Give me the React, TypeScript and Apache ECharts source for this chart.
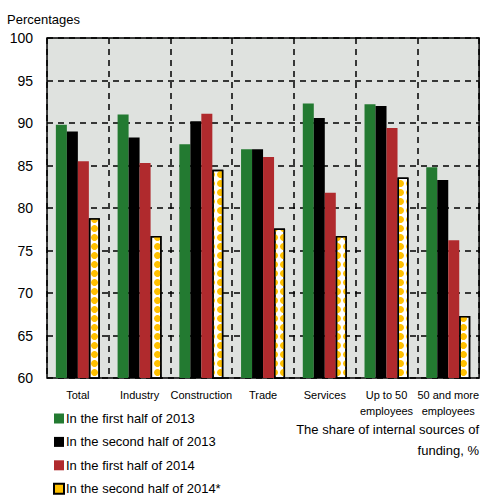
import React, { useEffect, useRef } from "react";
import * as echarts from "echarts";

const categories = [
  "Total",
  "Industry",
  "Construction",
  "Trade",
  "Services",
  "Up to 50\nemployees",
  "50 and more\nemployees",
];

const seriesNames = [
  "In the first half of 2013",
  "In the second half of 2013",
  "In the first half of 2014",
  "In the second half of 2014*",
];

const firstHalf2013 = [89.8, 91.0, 87.5, 86.9, 92.3, 92.2, 84.8];
const secondHalf2013 = [89.0, 88.3, 90.2, 86.9, 90.6, 92.0, 83.3];
const firstHalf2014 = [85.5, 85.3, 91.1, 86.0, 81.8, 89.4, 76.2];
const secondHalf2014 = [78.8, 76.7, 84.5, 77.6, 76.7, 83.6, 67.3];

const yTicks = [60, 65, 70, 75, 80, 85, 90, 95, 100];

const noteLines = ["The share of internal sources of", "funding, %"];

const FONT = "'Liberation Sans', Arial, sans-serif";

const GREEN = "#237a31";
const BLACK = "#000000";
const RED = "#b02a2d";
const YELLOW = "#ffc000";

export default function App() {
  const ref = useRef<HTMLDivElement>(null);

  useEffect(() => {
    document.body.style.margin = "0";
    if (!ref.current) return;
    const chart = echarts.init(ref.current, undefined, { renderer: "svg" });

    const plainBar = (name: string, data: number[], color: string) => ({
      name,
      type: "bar",
      data,
      barWidth: 11,
      barGap: "0%",
      itemStyle: { color },
    });

    chart.setOption({
      animation: false,
      backgroundColor: "#ffffff",
      textStyle: { fontFamily: FONT },
      title: {
        text: "Percentages",
        left: 7,
        top: 13,
        padding: 0,
        textStyle: { fontFamily: FONT, fontSize: 13, fontWeight: "normal", color: "#000" },
      },
      graphic: noteLines.map((line, i) => ({
        type: "text",
        right: 3,
        top: 423 + i * 21,
        style: {
          text: line,
          font: `13px ${FONT}`,
          fill: "#000",
        },
      })),
      grid: {
        left: 47,
        right: 1,
        top: 38,
        bottom: 119,
        show: true,
        backgroundColor: "#dfe2df",
        borderColor: "#000",
        borderWidth: 1.5,
        z: 0,
      },
      legend: {
        orient: "vertical",
        left: 53,
        top: 412,
        padding: 0,
        itemWidth: 10,
        itemHeight: 10,
        itemGap: 10.4,
        icon: "rect",
        textStyle: {
          fontFamily: FONT,
          fontSize: 13,
          color: "#000",
          lineHeight: 13,
          padding: [0, 0, 0, -3],
        },
        data: [
          { name: seriesNames[0], itemStyle: { color: GREEN } },
          { name: seriesNames[1], itemStyle: { color: BLACK } },
          { name: seriesNames[2], itemStyle: { color: RED } },
          {
            name: seriesNames[3],
            itemStyle: { color: YELLOW, borderColor: "#000", borderWidth: 2, decal: "none" },
          },
        ],
      },
      xAxis: {
        type: "category",
        data: categories,
        axisLine: { show: false },
        axisTick: { show: false },
        axisLabel: {
          interval: 0,
          fontFamily: FONT,
          fontSize: 11,
          color: "#000",
          lineHeight: 16,
          margin: 9,
        },
        splitLine: {
          show: true,
          interval: 0,
          lineStyle: { color: "#000", width: 1.5, type: [6, 5] },
        },
      },
      yAxis: {
        type: "value",
        min: yTicks[0],
        max: yTicks[yTicks.length - 1],
        interval: 5,
        axisLine: { show: false },
        axisTick: { show: false },
        axisLabel: { fontFamily: FONT, fontSize: 14, color: "#000", margin: 14 },
        splitLine: { show: true, lineStyle: { color: "#000", width: 1.5, type: [6, 5] } },
      },
      series: [
        plainBar(seriesNames[0], firstHalf2013, GREEN),
        plainBar(seriesNames[1], secondHalf2013, BLACK),
        plainBar(seriesNames[2], firstHalf2014, RED),
        {
          name: seriesNames[3],
          type: "bar",
          data: secondHalf2014,
          barWidth: 11,
          barGap: "0%",
          itemStyle: {
            color: "#ffffff",
            borderColor: "#000",
            borderWidth: 1.5,
            decal: {
              symbol: "circle",
              symbolSize: 1,
              color: YELLOW,
              backgroundColor: "#ffffff",
              dashArrayX: [[9, 0]],
              dashArrayY: [7, 2],
              rotation: 0,
            },
          },
        },
      ],
    });

    return () => chart.dispose();
  }, []);

  return <div ref={ref} style={{ width: 482, height: 497 }} />;
}
